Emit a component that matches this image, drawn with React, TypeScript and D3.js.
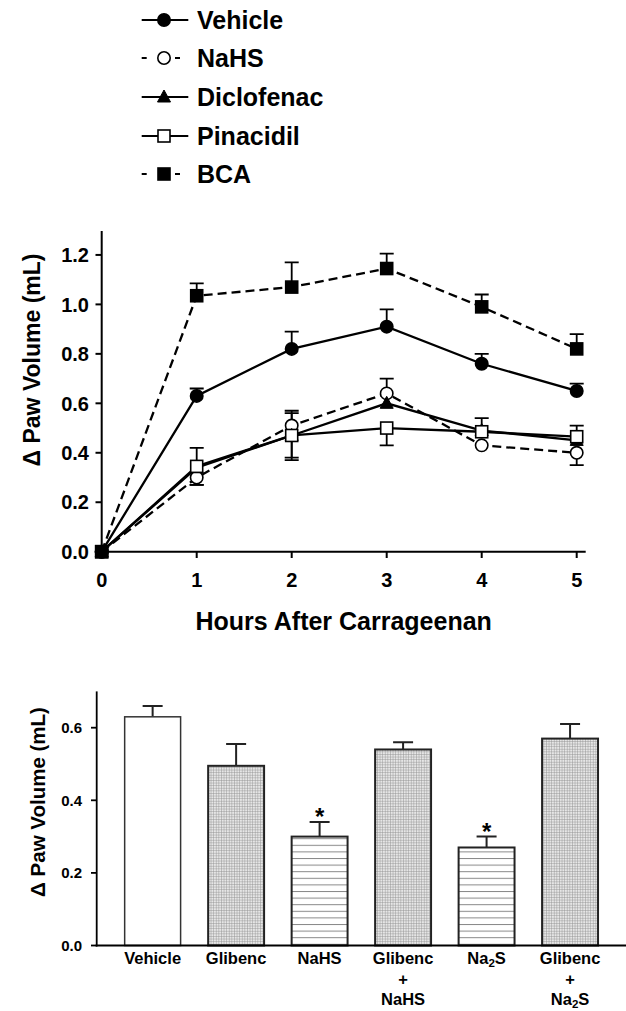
import React, { useEffect } from 'react';
import * as d3 from 'd3';

// ---- line chart data (hours after carrageenan) ----
const hours = [0, 1, 2, 3, 4, 5];
const vehicleMean = [0, 0.63, 0.82, 0.91, 0.76, 0.65];
const vehicleUp = [0, 0.03, 0.07, 0.07, 0.04, 0.03];
const vehicleDown = [0, 0, 0, 0, 0, 0];
const nahsMean = [0, 0.3, 0.51, 0.64, 0.43, 0.4];
const nahsUp = [0, 0, 0.05, 0.06, 0, 0];
const nahsDown = [0, 0.03, 0, 0, 0, 0.05];
const diclofenacMean = [0, 0.34, 0.47, 0.6, 0.49, 0.45];
const diclofenacUp = [0, 0, 0, 0, 0, 0];
const diclofenacDown = [0, 0, 0.09, 0, 0, 0];
const pinacidilMean = [0, 0.345, 0.47, 0.5, 0.485, 0.465];
const pinacidilUp = [0, 0.075, 0.1, 0, 0.055, 0.045];
const pinacidilDown = [0, 0.075, 0.1, 0.07, 0, 0];
const bcaMean = [0, 1.035, 1.07, 1.145, 0.99, 0.82];
const bcaUp = [0, 0.05, 0.1, 0.06, 0.05, 0.06];
const bcaDown = [0, 0, 0, 0, 0, 0];
const yTicksTop = [0, 0.2, 0.4, 0.6, 0.8, 1.0, 1.2];

// ---- bar chart data ----
const groups = ['Vehicle', 'Glibenc', 'NaHS', 'Glibenc + NaHS', 'Na2S', 'Glibenc + Na2S'];
const groupLabels = [['Vehicle'], ['Glibenc'], ['NaHS'], ['Glibenc', '+', 'NaHS'], ['Na_2S'], ['Glibenc', '+', 'Na_2S']];
const barMean = [0.63, 0.495, 0.3, 0.54, 0.27, 0.57];
const barSem = [0.03, 0.06, 0.04, 0.02, 0.03, 0.04];
const barFill = ['open', 'grid', 'lines', 'grid', 'lines', 'grid'];
const barStar = [false, false, true, false, true, false];
const yTicksBottom = [0, 0.2, 0.4, 0.6];

const series = [
  { name: 'Vehicle', mean: vehicleMean, up: vehicleUp, down: vehicleDown, dashed: false, shape: 'circle', filled: true },
  { name: 'NaHS', mean: nahsMean, up: nahsUp, down: nahsDown, dashed: true, shape: 'circle', filled: false },
  { name: 'Diclofenac', mean: diclofenacMean, up: diclofenacUp, down: diclofenacDown, dashed: false, shape: 'triangle', filled: true },
  { name: 'Pinacidil', mean: pinacidilMean, up: pinacidilUp, down: pinacidilDown, dashed: false, shape: 'square', filled: false },
  { name: 'BCA', mean: bcaMean, up: bcaUp, down: bcaDown, dashed: true, shape: 'square', filled: true },
];

const FONT = 'Liberation Sans, Arial, Helvetica, sans-serif';

function Marker({ shape, filled, x, y }: any) {
  const fill = filled ? '#000' : '#fff';
  if (shape === 'circle') return <circle cx={x} cy={y} r={6.2} fill={fill} stroke="#000" strokeWidth={1.6} />;
  if (shape === 'square') return <rect x={x - 6} y={y - 6} width={12} height={12} fill={fill} stroke="#000" strokeWidth={1.6} />;
  return <path d={`M${x},${y - 7}L${x + 6.5},${y + 5}L${x - 6.5},${y + 5}Z`} fill={fill} stroke="#000" strokeWidth={1} />;
}

function Label({ text, x, y, size }: any) {
  if (text.includes('_')) {
    const [a, b] = text.split('_');
    return (
      <text x={x} y={y} textAnchor="middle" fontSize={size} fontWeight="bold" fontFamily={FONT}>
        {a}
        <tspan fontSize={size * 0.7} dy={3}>{b[0]}</tspan>
        <tspan dy={-3}>{b.slice(1)}</tspan>
      </text>
    );
  }
  return <text x={x} y={y} textAnchor="middle" fontSize={size} fontWeight="bold" fontFamily={FONT}>{text}</text>;
}

export default function App() {
  useEffect(() => {
    document.body.style.margin = '0';
  }, []);

  // top chart scales
  const x = d3.scaleLinear().domain([0, 5]).range([101.7, 576.7]);
  const y = d3.scaleLinear().domain([0, 1.3]).range([551.7, 230.2]);
  const line = d3.line<number>().x((_, i) => x(hours[i])).y(d => y(d));

  // bottom chart scales
  const xb = d3.scaleBand().domain(groups).range([96.7, 626]).paddingInner(0.33).paddingOuter(0.335);
  const yb = d3.scaleLinear().domain([0, 0.7]).range([945.5, 691.4]);

  const legendY = [20, 58, 97, 136, 174];

  return (
    <svg width={626} height={1011} style={{ display: 'block', background: '#fff' }}>
      <defs>
        <pattern id="grid" patternUnits="userSpaceOnUse" width={2.6} height={2.6}>
          <rect width={2.6} height={2.6} fill="#e6e6e6" />
          <path d="M0,0H2.6M0,0V2.6" stroke="#909090" strokeWidth={0.9} />
        </pattern>
        <pattern id="lines" patternUnits="userSpaceOnUse" width={10} height={6.6}>
          <rect width={10} height={6.6} fill="#fff" />
          <path d="M0,0.5H10" stroke="#888" strokeWidth={1} />
        </pattern>
      </defs>

      {/* legend */}
      {series.map((s, i) => (
        <g key={s.name}>
          <line x1={141.7} x2={188.3} y1={legendY[i]} y2={legendY[i]} stroke="#000" strokeWidth={2.2}
            strokeDasharray={s.dashed ? '5,28.3,5,100' : undefined} />
          <Marker shape={s.shape} filled={s.filled} x={164} y={legendY[i]} />
          <text x={197} y={legendY[i]} dy="0.36em" fontSize={25} fontWeight="bold" fontFamily={FONT}>{s.name}</text>
        </g>
      ))}

      {/* top chart axes */}
      <line x1={101.7} x2={101.7} y1={231} y2={552.7} stroke="#000" strokeWidth={2} />
      <line x1={100.7} x2={585.7} y1={551.7} y2={551.7} stroke="#000" strokeWidth={2} />
      {yTicksTop.map(t => (
        <g key={t}>
          <line x1={95.5} x2={101.7} y1={y(t)} y2={y(t)} stroke="#000" strokeWidth={2} />
          <text x={89} y={y(t)} dy="0.36em" textAnchor="end" fontSize={20} fontWeight="bold" fontFamily={FONT}>{d3.format('.1f')(t)}</text>
        </g>
      ))}
      {hours.map(h => (
        <g key={h}>
          <line x1={x(h)} x2={x(h)} y1={551.7} y2={558} stroke="#000" strokeWidth={2} />
          <text x={x(h)} y={587} textAnchor="middle" fontSize={20} fontWeight="bold" fontFamily={FONT}>{h}</text>
        </g>
      ))}
      <text x={343.7} y={630} textAnchor="middle" fontSize={25} fontWeight="bold" fontFamily={FONT}>Hours After Carrageenan</text>
      <text transform="translate(40,360) rotate(-90)" textAnchor="middle" fontSize={23} fontWeight="bold" fontFamily={FONT}>Δ Paw Volume (mL)</text>

      {/* error bars */}
      {series.map(s => (
        <g key={s.name + 'err'}>
          {s.mean.map((m, i) => (
            <g key={i}>
              {s.up[i] > 0 && (
                <path d={`M${x(hours[i])},${y(m)}V${y(m + s.up[i])}M${x(hours[i]) - 7},${y(m + s.up[i])}H${x(hours[i]) + 7}`} stroke="#000" strokeWidth={1.8} fill="none" />
              )}
              {s.down[i] > 0 && (
                <path d={`M${x(hours[i])},${y(m)}V${y(m - s.down[i])}M${x(hours[i]) - 7},${y(m - s.down[i])}H${x(hours[i]) + 7}`} stroke="#000" strokeWidth={1.8} fill="none" />
              )}
            </g>
          ))}
        </g>
      ))}

      {/* lines */}
      {series.map(s => (
        <path key={s.name + 'line'} d={line(s.mean) || ''} fill="none" stroke="#000" strokeWidth={2.3}
          strokeDasharray={s.dashed ? '9,5' : undefined} />
      ))}
      {/* markers */}
      {series.map(s => (
        <g key={s.name + 'mk'}>
          {s.mean.map((m, i) => (
            <Marker key={i} shape={s.shape} filled={s.filled} x={x(hours[i])} y={y(m)} />
          ))}
        </g>
      ))}

      {/* bottom chart */}
      {groups.map((g, i) => {
        const bx = xb(g) as number;
        const cx = bx + xb.bandwidth() / 2;
        const fill = barFill[i] === 'open' ? '#fff' : `url(#${barFill[i]})`;
        return (
          <g key={g}>
            <path d={`M${cx},${yb(barMean[i])}V${yb(barMean[i] + barSem[i])}M${cx - 10},${yb(barMean[i] + barSem[i])}H${cx + 10}`} stroke="#222" strokeWidth={2} fill="none" />
            <rect x={bx} y={yb(barMean[i])} width={xb.bandwidth()} height={yb(0) - yb(barMean[i])} fill={fill}
              stroke={barFill[i] === 'open' ? '#333' : '#222'} strokeWidth={barFill[i] === 'open' ? 1.5 : 2} />
            {barStar[i] && (
              <text x={cx} y={yb(barMean[i] + barSem[i]) + 3} textAnchor="middle" fontSize={24} fontWeight="bold" fontFamily={FONT}>*</text>
            )}
            {groupLabels[i].map((t, j) => (
              <Label key={j} text={t} x={cx} y={964 + j * 20.5} size={16.5} />
            ))}
          </g>
        );
      })}
      <line x1={96.7} x2={96.7} y1={691.4} y2={946.5} stroke="#000" strokeWidth={1.8} />
      <line x1={95.7} x2={626} y1={945.5} y2={945.5} stroke="#000" strokeWidth={1.8} />
      {yTicksBottom.map(t => (
        <g key={t}>
          <line x1={91} x2={96.7} y1={yb(t)} y2={yb(t)} stroke="#000" strokeWidth={1.8} />
          <text x={82} y={yb(t)} dy="0.36em" textAnchor="end" fontSize={15} fontWeight="bold" fontFamily={FONT}>{d3.format('.1f')(t)}</text>
        </g>
      ))}
      <text transform="translate(45,802) rotate(-90)" textAnchor="middle" fontSize={20.5} fontWeight="bold" fontFamily={FONT}>Δ Paw Volume (mL)</text>
    </svg>
  );
}
